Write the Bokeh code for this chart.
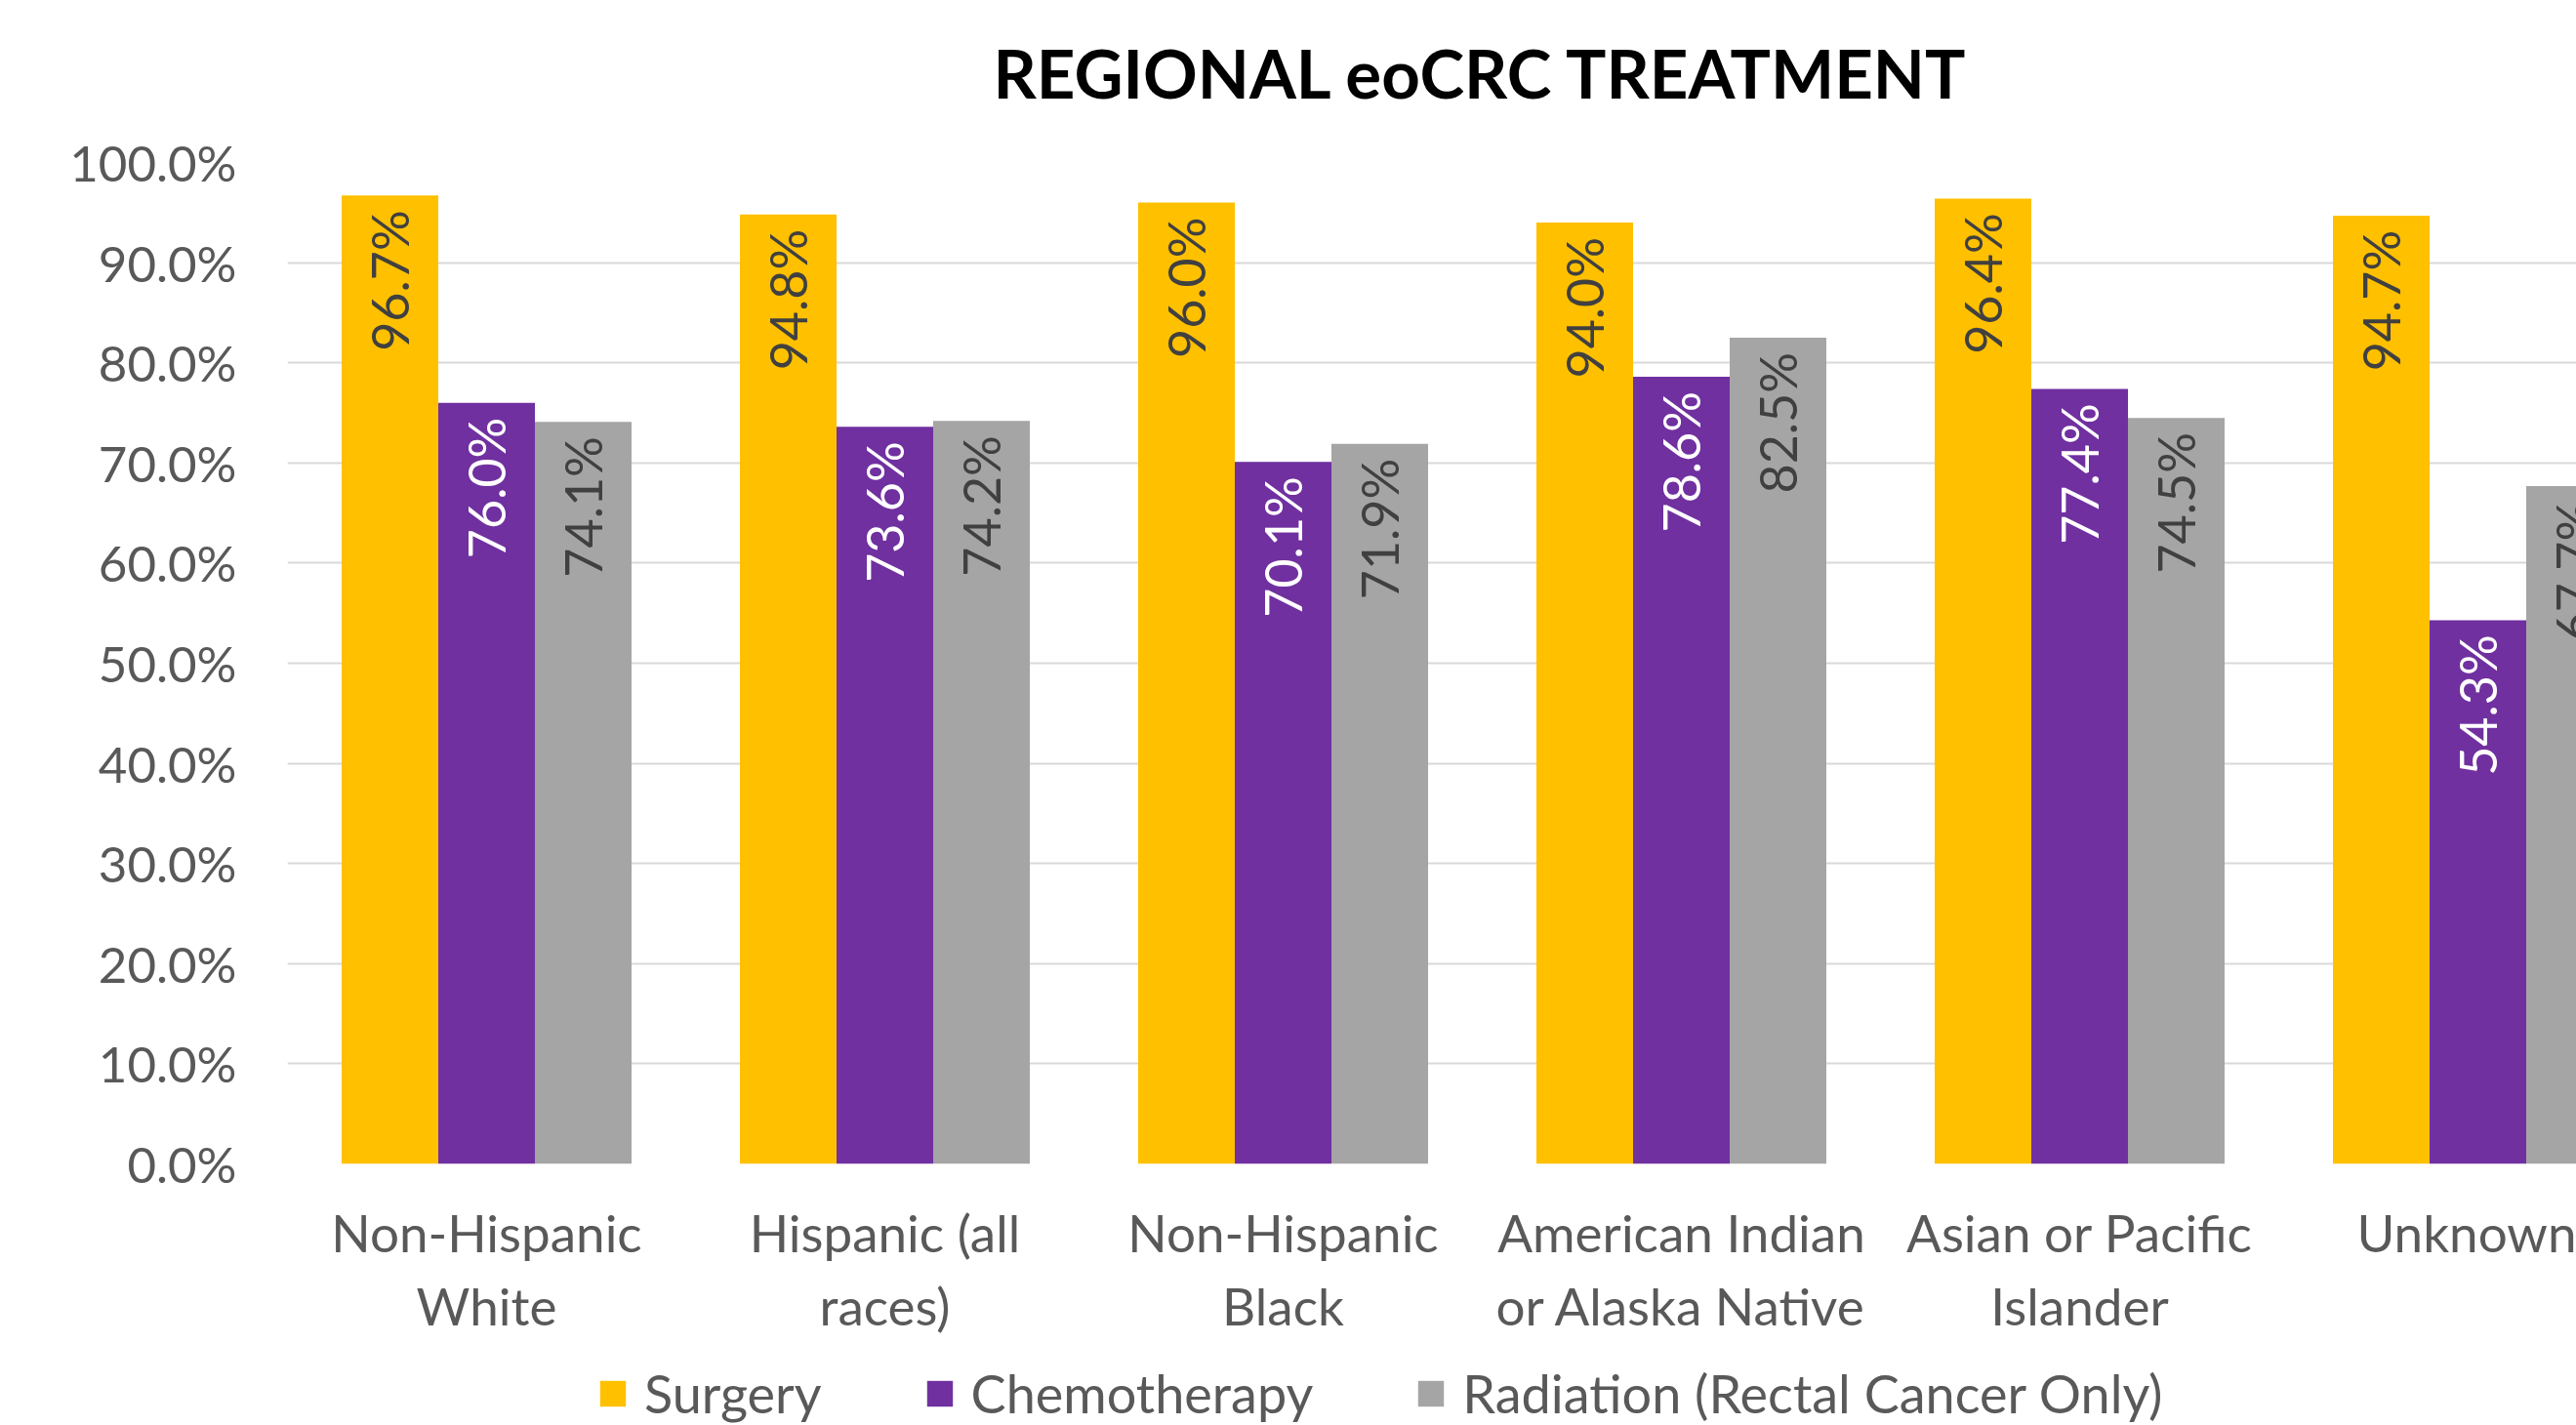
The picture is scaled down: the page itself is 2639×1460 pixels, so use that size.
from bokeh.plotting import figure
from bokeh.layouts import column
from bokeh.models import (Range1d, FixedTicker, ColumnDataSource, LabelSet, Label,
                          Legend, LegendItem, PrintfTickFormatter)
from bokeh.transform import dodge
from bokeh.core.properties import value
from bokeh.embed import file_html
from bokeh.resources import INLINE

# ---------------- data ----------------
categories = ["Non-Hispanic\nWhite", "Hispanic (all\nraces)", "Non-Hispanic\nBlack",
              "American Indian\nor Alaska Native", "Asian or Pacific\nIslander", "Unknown"]
series_names = ["Surgery", "Chemotherapy", "Radiation (Rectal Cancer Only)"]
surgery = [96.7, 94.8, 96.0, 94.0, 96.4, 94.7]
chemotherapy = [76.0, 73.6, 70.1, 78.6, 77.4, 54.3]
radiation = [74.1, 74.2, 71.9, 82.5, 74.5, 67.7]
y_ticks = [0, 10, 20, 30, 40, 50, 60, 70, 80, 90, 100]
title_text = "REGIONAL eoCRC TREATMENT"

colors = ["#FFC000", "#7030A0", "#A5A5A5"]
label_colors = ["#404040", "#FFFFFF", "#404040"]
FONT = "Lato"

W = 2639
H_TITLE, H_MAIN, H_LEG = 130, 1260, 70
LEFT = 294
TOP = 166 - H_TITLE
BOTTOM = H_MAIN - TOP - 1026
frame_w = W - LEFT
cat_px = 408.0
xs = [i + 0.5 for i in range(len(categories))]

src = ColumnDataSource(dict(x=xs, s=surgery, c=chemotherapy, r=radiation,
                            sl=[f"{v:.1f}%" for v in surgery],
                            cl=[f"{v:.1f}%" for v in chemotherapy],
                            rl=[f"{v:.1f}%" for v in radiation]))
fields = [("s", "sl"), ("c", "cl"), ("r", "rl")]

# ---------------- title strip ----------------
t = figure(width=W, height=H_TITLE, output_backend="svg", toolbar_location=None,
           x_range=Range1d(0, frame_w), y_range=Range1d(0, H_TITLE),
           x_axis_type=None, y_axis_type=None, min_border_left=LEFT,
           min_border_right=0, min_border_top=0, min_border_bottom=0)
t.outline_line_color = None
t.xgrid.visible = False
t.ygrid.visible = False
t.add_layout(Label(x=1517 - LEFT, y=H_TITLE - 74, text=title_text, text_align="center",
                   text_baseline="middle", text_font=FONT, text_font_size="69px",
                   text_font_style="bold", text_color="black"))

# ---------------- main chart ----------------
p = figure(width=W, height=H_MAIN, output_backend="svg", toolbar_location=None,
           x_range=Range1d(0, frame_w / cat_px), y_range=Range1d(0, 100),
           min_border_left=LEFT, min_border_right=0, min_border_top=TOP,
           min_border_bottom=BOTTOM)
p.outline_line_color = None
p.background_fill_color = "white"
p.border_fill_color = "white"

bw = 99.0 / cat_px
for k, (field, lab) in enumerate(fields):
    off = (k - 1) * bw
    p.vbar(x=dodge("x", off, range=p.x_range), top=field, width=bw, bottom=0,
           source=src, fill_color=colors[k], line_color=None)
    ls = LabelSet(x=dodge("x", off, range=p.x_range), y=field, text=lab, source=src,
                  angle=1.5707963, text_align="right", text_baseline="middle",
                  y_offset=-15, text_font=value(FONT), text_font_size="52px",
                  text_color=label_colors[k])
    p.add_layout(ls)

p.xgrid.grid_line_color = None
p.ygrid.grid_line_color = "#D9D9D9"
p.ygrid.grid_line_width = 2
p.ygrid.ticker = FixedTicker(ticks=y_ticks)

p.yaxis.ticker = FixedTicker(ticks=y_ticks)
p.yaxis.formatter = PrintfTickFormatter(format="%.1f%%")
p.yaxis.axis_line_color = None
p.yaxis.major_tick_line_color = None
p.yaxis.minor_tick_line_color = None
p.yaxis.major_label_text_font = FONT
p.yaxis.major_label_text_font_size = "51px"
p.yaxis.major_label_text_color = "#595959"
p.yaxis.major_label_standoff = 46

p.xaxis.ticker = FixedTicker(ticks=xs)
p.xaxis.major_label_overrides = {x: c for x, c in zip(xs, categories)}
p.xaxis.axis_line_color = None
p.xaxis.major_tick_line_color = None
p.xaxis.minor_tick_line_color = None
p.xaxis.major_label_text_font = FONT
p.xaxis.major_label_text_font_size = "53px"
p.xaxis.major_label_text_color = "#595959"
p.xaxis.major_label_text_line_height = 1.2
p.xaxis.major_label_standoff = 32

# ---------------- legend strip ----------------
q = figure(width=W, height=H_LEG, output_backend="svg", toolbar_location=None,
           x_range=Range1d(0, 1), y_range=Range1d(0, 1),
           x_axis_type=None, y_axis_type=None, min_border_left=LEFT,
           min_border_right=0, min_border_top=0, min_border_bottom=0)
q.outline_line_color = None
q.xgrid.visible = False
q.ygrid.visible = False
# same series as zero-size bars outside this strip's range: only their legend swatches show
proxies = [q.vbar(x="x", top=f, bottom=f, width=0.0, source=src,
                  fill_color=colors[k], line_color=None)
           for k, (f, _) in enumerate(fields)]
legend = Legend(items=[LegendItem(label=series_names[k], renderers=[proxies[k]]) for k in range(3)],
                location=(611 - LEFT, 0), orientation="horizontal",
                glyph_width=33, glyph_height=33, label_standoff=16, spacing=104,
                label_text_font=FONT, label_text_font_size="54px",
                label_text_color="#595959", border_line_color=None,
                background_fill_alpha=0, padding=0, margin=0)
q.add_layout(legend)

layout = column(t, p, q, spacing=0)
open("out.html", "w").write(file_html(layout, INLINE))
